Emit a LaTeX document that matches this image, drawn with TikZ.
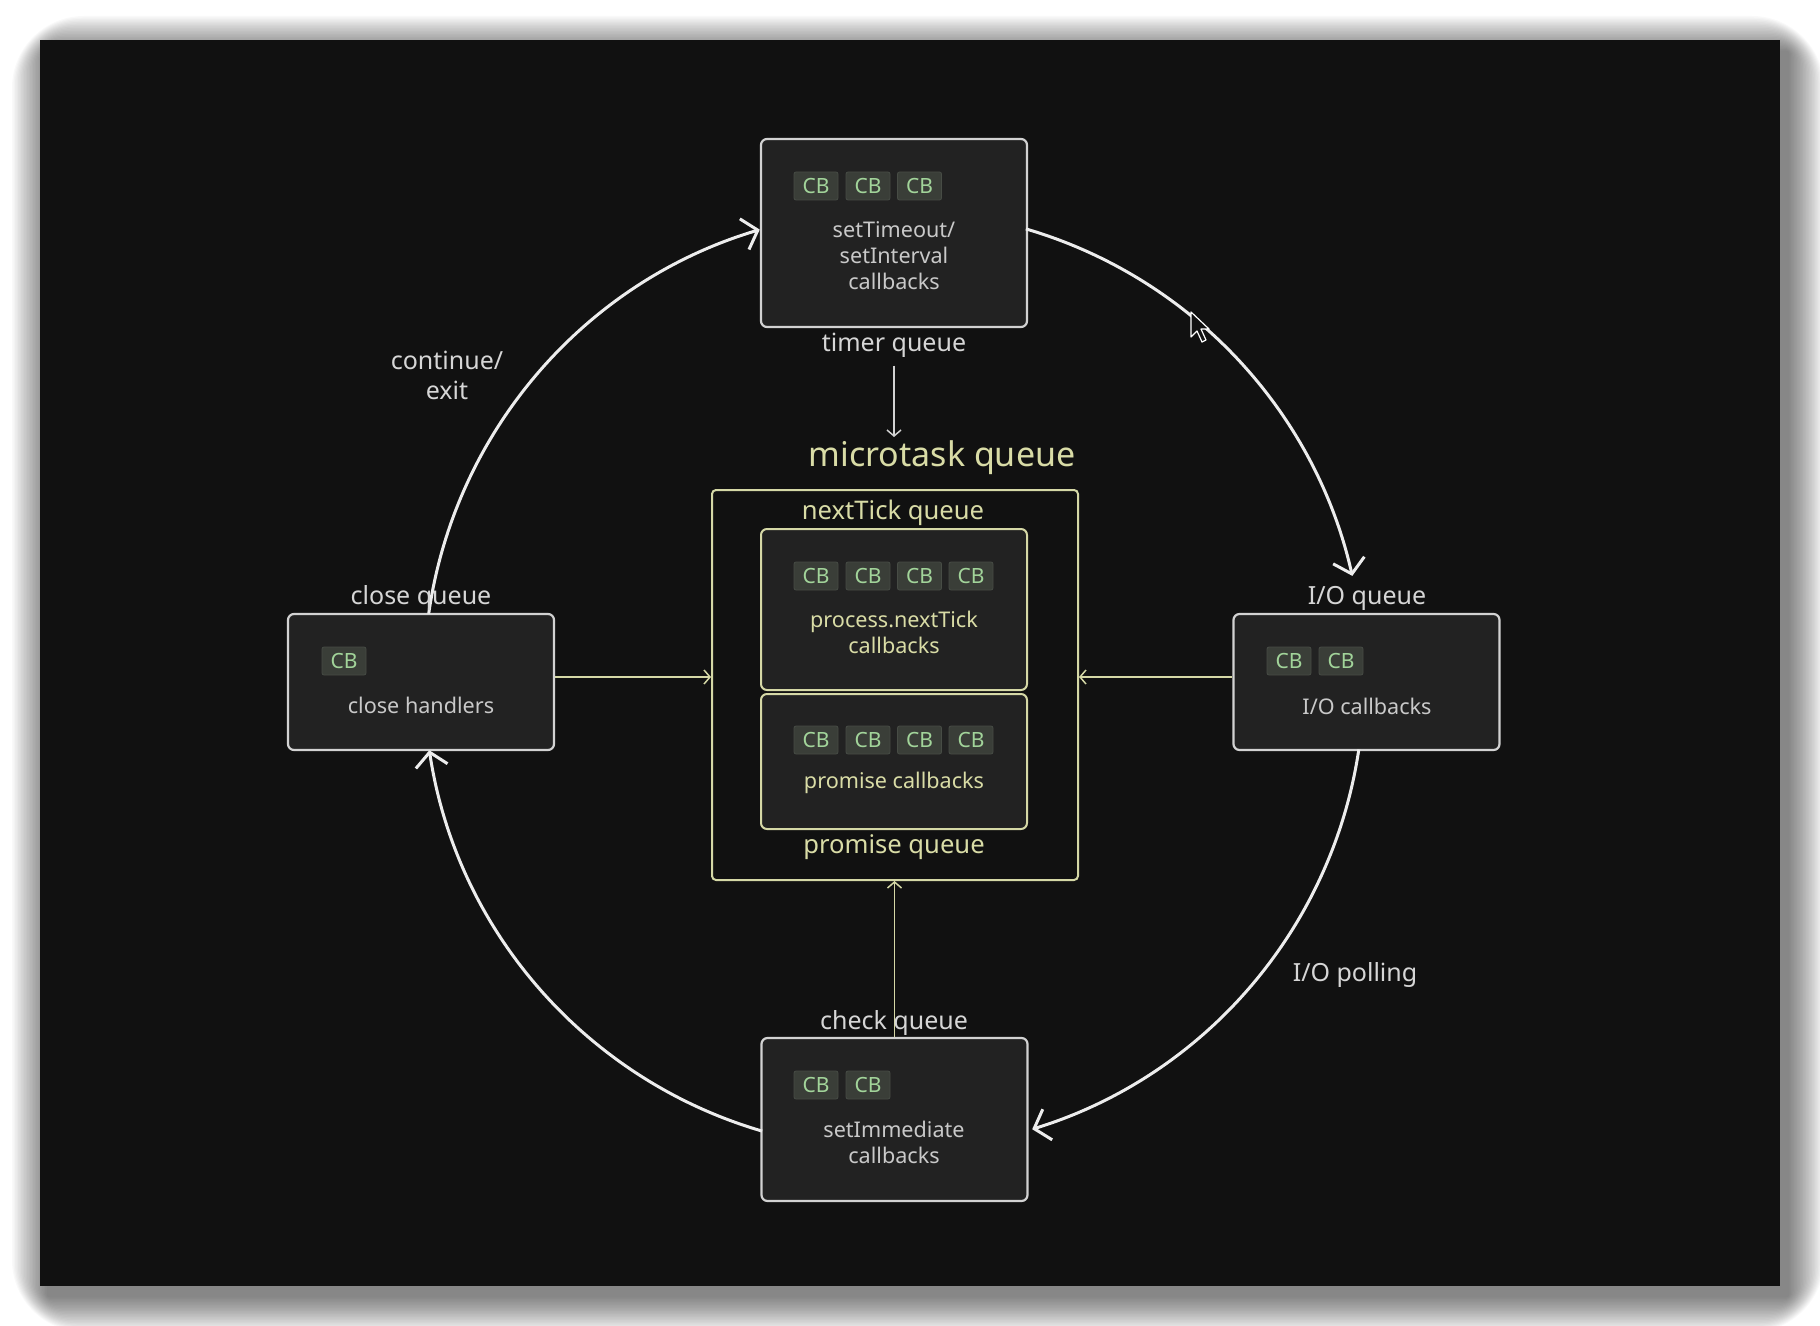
\documentclass[tikz,border=0pt]{standalone}
\usepackage{fontspec}
\setmainfont{Noto Sans}
\usetikzlibrary{arrows.meta,calc}
\definecolor{panel}{HTML}{111111}
\definecolor{boxfill}{HTML}{222222}
\definecolor{boxline}{HTML}{D2D2D2}
\definecolor{boxtext}{HTML}{C9C9C9}
\definecolor{labeltext}{HTML}{D6D6D6}
\definecolor{mtline}{HTML}{D5D8A6}
\definecolor{mttext}{HTML}{D9DCA6}
\definecolor{chipfill}{HTML}{3A3E38}
\definecolor{chipline}{HTML}{474C45}
\definecolor{chiptext}{HTML}{A2D49A}
\definecolor{loopline}{HTML}{EDEDED}
\begin{document}
\begin{tikzpicture}[x=0.5pt,y=-0.5pt,
  qbox/.style={draw=boxline,fill=boxfill,line width=1.1pt,rounded corners=3pt,minimum width=133pt,inner sep=0pt},
  mbox/.style={draw=mtline,fill=boxfill,line width=1pt,rounded corners=3pt,minimum width=133pt,inner sep=0pt},
  chip/.style={fill=chipfill,draw=chipline,line width=0.4pt,rounded corners=1pt,minimum width=22pt,minimum height=14pt,inner sep=0pt,text=chiptext,font=\fontsize{10.5}{12}\selectfont},
  btext/.style={text=boxtext,align=center,font=\fontsize{10.8}{13}\selectfont,inner sep=0pt},
  mtext/.style={text=mttext,align=center,font=\fontsize{10.8}{13}\selectfont,inner sep=0pt},
  lbl/.style={text=labeltext,align=center,font=\fontsize{12.5}{15}\selectfont,inner sep=0pt},
  looparrow/.style={draw=loopline,line width=1.5pt,-{Straight Barb[length=7pt,width=16pt,line width=1.5pt]}},
  mtarrow/.style={draw=mtline,line width=0.75pt,-{Straight Barb[length=3pt,width=7pt,line width=0.75pt]}}
]
\useasboundingbox (0,0) rectangle (1820,1326);
\fill[white] (0,0) rectangle (1820,1326);
% soft shadow, stronger toward the lower right
\foreach \i in {1,...,24}{
  \fill[black,opacity=0.022,rounded corners={1.5*\i pt}] ({48-1.5*\i},{52-1.5*\i}) rectangle ({1788+1.5*\i},{1296+1.5*\i});
}
\fill[panel] (40,40) rectangle (1780,1286);

\coordinate (C) at (894,680);

% queue boxes
\node[qbox,minimum height=94pt] (timer) at (894,233) {};
\node[qbox,minimum height=68pt] (close) at (421,682) {};
\node[qbox,minimum height=68pt] (io) at (1366.5,682) {};
\node[qbox,minimum height=81.5pt] (check) at (894.5,1119.5) {};

% loop arcs (around the circle of the loop)
\draw[looparrow] ($(C)+(-171.9:470)$) arc[start angle=-171.9,end angle=-106.6,radius=470];
\draw[looparrow] ($(C)+(-73.7:470)$) arc[start angle=-73.7,end angle=-12.8,radius=470];
\draw[looparrow] ($(C)+(8.5:470)$) arc[start angle=8.5,end angle=72.9,radius=470];
\draw[looparrow] ($(C)+(106.3:470)$) arc[start angle=106.3,end angle=171.4,radius=470];

% microtask
\node[draw=mtline,line width=1pt,rounded corners=2pt,minimum width=183pt,minimum height=195pt,inner sep=0pt] (micro) at (895,685) {};
\node[mbox,minimum height=80.5pt] (nt) at (894,609.5) {};
\node[mbox,minimum height=67.5pt] (pr) at (894,761.5) {};

% chips
\foreach \x/\n in {816/1,868/2,919.5/3}{\node[chip] (tc\n) at (\x,186) {CB};}
\foreach \x/\n in {816/1,868/2,919.5/3,971/4}{\node[chip] (nc\n) at (\x,576) {CB};}
\foreach \x/\n in {816/1,868/2,919.5/3,971/4}{\node[chip] (pc\n) at (\x,740) {CB};}
\foreach \x/\n in {816/1,868/2}{\node[chip] (cc\n) at (\x,1085) {CB};}
\node[chip] (clc1) at (344,661) {CB};
\foreach \x/\n in {1289/1,1341/2}{\node[chip] (ic\n) at (\x,661) {CB};}

% box texts
\node[btext] (ttext) at (894,256) {setTimeout/\\setInterval\\callbacks};
\node[btext] (cltext) at (421,705) {close handlers};
\node[btext] (iotext) at (1367,706) {I/O callbacks};
\node[btext] (chtext) at (894,1142) {setImmediate\\callbacks};
\node[mtext] (nttext) at (894,632) {process.nextTick\\callbacks};
\node[mtext] (prtext) at (894,783) {promise callbacks};

% microtask arrows
\coordinate (mtin) at (894,437);
\coordinate (clout) at ($(close.east)+(0,-5)$);
\coordinate (ioout) at ($(io.west)+(0,-5)$);
\draw[mtarrow] (clout) -- (clout -| micro.west);
\draw[mtarrow] (ioout) -- (ioout -| micro.east);
\draw[mtarrow] (check.north) -- (check.north |- micro.south);

% labels
\node[lbl] (tq) at (894,345) {timer queue};
\draw[mtarrow,draw=boxline] (tq.south) ++(0,8) -- (mtin);
\node[text=mttext,font=\fontsize{17}{20}\selectfont,inner sep=0pt] (mtq) at (942,458) {microtask queue};
\node[text=mttext,font=\fontsize{12.8}{15}\selectfont,inner sep=0pt] (ntq) at (893,513) {nextTick queue};
\node[text=mttext,font=\fontsize{12.8}{15}\selectfont,inner sep=0pt] (prq) at (894,847) {promise queue};
\node[lbl] (chq) at (894,1023) {check queue};
\node[lbl] (clq) at (421,598) {close queue};
\node[lbl] (ioq) at (1367,598) {I/O queue};
\node[lbl] (cont) at (447,375) {continue/\\exit};
\node[lbl] (poll) at (1355,975) {I/O polling};

% mouse cursor
\draw[white,line width=0.6pt,fill=panel,line join=round] (1191,312) -- (1191,337) -- (1197,331) -- (1202,342) -- (1206,340) -- (1201,329) -- (1209,329) -- cycle;
\end{tikzpicture}
\end{document}
